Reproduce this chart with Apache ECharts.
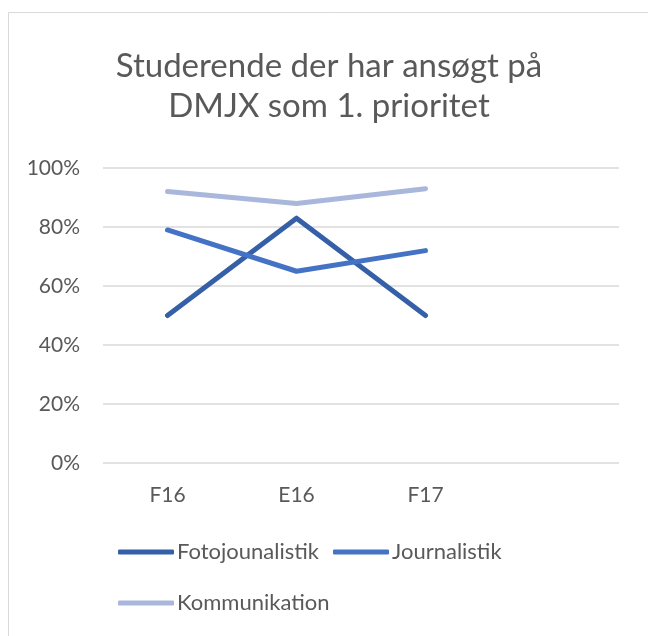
<!DOCTYPE html>
<html>
<head>
<meta charset="utf-8">
<script src="https://cdn.jsdelivr.net/npm/echarts@6/dist/echarts.min.js"></script>
<style>
  html, body { margin: 0; padding: 0; background: #fff; }
  #chart { width: 648px; height: 636px; }
</style>
</head>
<body>
<div id="chart"></div>
<script>
const categories = ['F16', 'E16', 'F17', ''];
const fotojournalistik = [50, 83, 50, null];
const journalistik = [79, 65, 72, null];
const kommunikation = [92, 88, 93, null];
const yTicks = [0, 20, 40, 60, 80, 100];

const font = 'Lato';
const textColor = '#595959';

function lineSeries(name, data, color) {
   return {
      name: name,
      type: 'line',
      data: data,
      showSymbol: false,
      symbol: 'none',
      lineStyle: { width: 5, color: color, cap: 'round', join: 'round' },
      itemStyle: { color: color },
      emphasis: { disabled: true }
   };
}

const legendBase = {
   left: 113,
   orient: 'horizontal',
   icon: 'roundRect',
   itemWidth: 56,
   itemHeight: 5,
   itemGap: 14,
   textStyle: { fontFamily: font, fontSize: 22, color: textColor, padding: [0, 0, 0, -2] }
};

const chart = echarts.init(document.getElementById('chart'), null, { renderer: 'canvas' });
chart.setOption({
   animation: false,
   backgroundColor: '#fff',
   title: {
      text: 'Studerende der har ansøgt på\nDMJX som 1. prioritet',
      left: 324,
      top: 41,
      textAlign: 'center',
      textStyle: { fontFamily: font, fontSize: 33, fontWeight: 'normal', color: textColor, lineHeight: 40 }
   },
   graphic: [{
      type: 'rect',
      shape: { x: 8.5, y: 12.5, width: 700, height: 700 },
      style: { fill: 'none', stroke: '#D9D9D9', lineWidth: 1 },
      silent: true
   }],
   legend: [
      Object.assign({}, legendBase, { top: 536, data: ['Fotojounalistik', 'Journalistik'] }),
      Object.assign({}, legendBase, { top: 587, data: ['Kommunikation'] })
   ],
   grid: { left: 103, right: 29, top: 168, bottom: 173, containLabel: false },
   xAxis: {
      type: 'category',
      data: categories,
      boundaryGap: true,
      axisLine: { show: false },
      axisTick: { show: false },
      axisLabel: { fontFamily: font, fontSize: 21, color: textColor, margin: 22 }
   },
   yAxis: {
      type: 'value',
      min: yTicks[0],
      max: yTicks[yTicks.length - 1],
      interval: 20,
      axisLine: { show: false },
      axisTick: { show: false },
      axisLabel: { fontFamily: font, fontSize: 21, color: textColor, margin: 23, formatter: '{value}%' },
      splitLine: { lineStyle: { color: '#D9D9D9', width: 1.5 } }
   },
   series: [
      lineSeries('Fotojounalistik', fotojournalistik, '#3560A8'),
      lineSeries('Journalistik', journalistik, '#4472C4'),
      lineSeries('Kommunikation', kommunikation, '#A9B7DC')
   ]
});
</script>
</body>
</html>
